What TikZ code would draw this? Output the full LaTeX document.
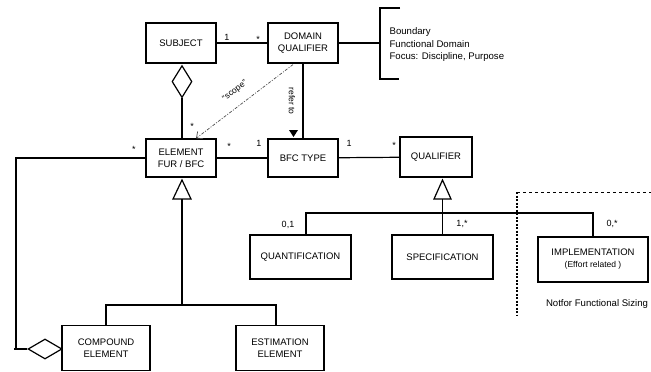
\documentclass[tikz,border=0pt]{standalone}
\usepackage{fontspec}
\setmainfont{Liberation Sans}
\usetikzlibrary{arrows.meta,shapes.geometric}
\begin{document}
\begin{tikzpicture}[x=1pt,y=-1pt,line width=1.2pt,
    cls/.style={draw,align=center,inner sep=0pt,font=\fontsize{9.5}{12}\selectfont},
    mult/.style={font=\fontsize{9}{10}\selectfont,inner sep=0pt},
    note/.style={font=\fontsize{9.6}{11}\selectfont,inner sep=0pt,anchor=west},
    aggr/.style={draw,diamond,inner sep=0pt,fill=white}]
  \useasboundingbox (0,0) rectangle (651,372);
  \draw
    (181,43) node[cls,minimum width=70pt,minimum height=40pt] (subject){SUBJECT}
    (303,43) node[cls,minimum width=70pt,minimum height=40pt] (domain){DOMAIN\\QUALIFIER}
    (181,158) node[cls,minimum width=70pt,minimum height=38pt] (element){ELEMENT\\FUR / BFC}
    (303,158) node[cls,minimum width=70pt,minimum height=38pt] (bfc){BFC TYPE}
    (436,157) node[cls,minimum width=72pt,minimum height=40pt] (qualifier){QUALIFIER}
    (300.5,257) node[cls,minimum width=101pt,minimum height=44pt] (quant){QUANTIFICATION}
    (442.5,257) node[cls,minimum width=101pt,minimum height=44pt] (spec){SPECIFICATION}
    (593,259.5) node[cls,minimum width=110pt,minimum height=45pt] (impl){IMPLEMENTATION\\{\fontsize{8.5}{11}\selectfont(Effort related )}}
    (106,348) node[cls,minimum width=88pt,minimum height=45pt] (compound){COMPOUND\\ELEMENT}
    (280,348) node[cls,minimum width=88pt,minimum height=45pt] (estim){ESTIMATION\\ELEMENT};
  \node[aggr,minimum width=20pt,minimum height=32pt,anchor=north] (sdia) at (182,65) {};
  \node[aggr,minimum width=34pt,minimum height=20pt] (cdia) at (45,349) {};
  \coordinate (brk) at (380,43);
  \coordinate (ejoin) at (182,305);
  \coordinate (qjoin) at (442.5,213);
  \coordinate (corner) at (16,158);
  \begin{scope}[-]
    \draw (subject) -- (domain);
    \draw (domain) -- (brk);
    \draw (400,8) -- (380,8) -- (380,79) -- (399,79);
    \draw (sdia.south) -- (element.north -| sdia.south);
    \draw (domain.south) -- (bfc.north);
    \draw (element) -- (bfc);
    \draw (bfc) -- (qualifier);
    \draw (element.west) -- (corner) |- (cdia.west);
    \draw (14,349) -- (cdia.west);
    \draw[fill=white] (182,180) -- (173,199) -- (191,199) -- cycle;
    \draw (182,199) -- (ejoin);
    \draw ([xshift=0pt]compound.north) |- (ejoin) -| ([xshift=-4pt]estim.north);
    \draw[fill=white] (442.5,180) -- (434,199) -- (451,199) -- cycle;
    \draw (442.5,199) -- (spec.north);
    \draw ([xshift=5.5pt]quant.north) |- (qjoin) -| (impl.north);
    \fill (289,130) -- (298,130) -- (293.5,137) -- cycle;
  \end{scope}
  \draw[line width=0.7pt,black!70,dash pattern=on 3pt off 1.5pt on 1pt off 1.5pt,-{Straight Barb[length=5pt,width=9pt]}]
    ([xshift=-10pt,yshift=-1pt]domain.south) -- ([xshift=15pt]element.north);
  \node[rotate=37,font=\fontsize{8.5}{10}\selectfont,inner sep=0pt] (scope) at (235,91) {“scope”};
  \node[rotate=-90,font=\fontsize{8.5}{10}\selectfont,inner sep=0pt] (refer) at (292,101) {refer to};
  \node[mult] (m1) at (227,37) {1};
  \node[mult] (m2) at (258,39) {*};
  \node[mult] (m3) at (192,126) {*};
  \node[mult] (m4) at (134,149) {*};
  \node[mult] (m5) at (229,146) {*};
  \node[mult] (m6) at (259,143) {1};
  \node[mult] (m7) at (349,143) {1};
  \node[mult] (m8) at (394,145) {*};
  \node[mult] (m9) at (288,225) {0,1};
  \node[mult] (m10) at (462,224) {1,*};
  \node[mult] (m11) at (612,224) {0,*};
  \node[note] (bnd) at (389,32) {Boundary};
  \node[note] (fdom) at (389,44) {Functional Domain};
  \node[note] (focus) at (389,57) {Focus: Discipline, Purpose};
  \draw[line width=2pt,dash pattern=on 2pt off 1.5pt] (517,192) -- (517,315);
  \draw[line width=0.5pt,dashed] (517,192) -- (651,192);
  \node[font=\fontsize{9.6}{10}\selectfont,inner sep=0pt] (nfs) at (597,304) {Notfor Functional Sizing};
\end{tikzpicture}
\end{document}
